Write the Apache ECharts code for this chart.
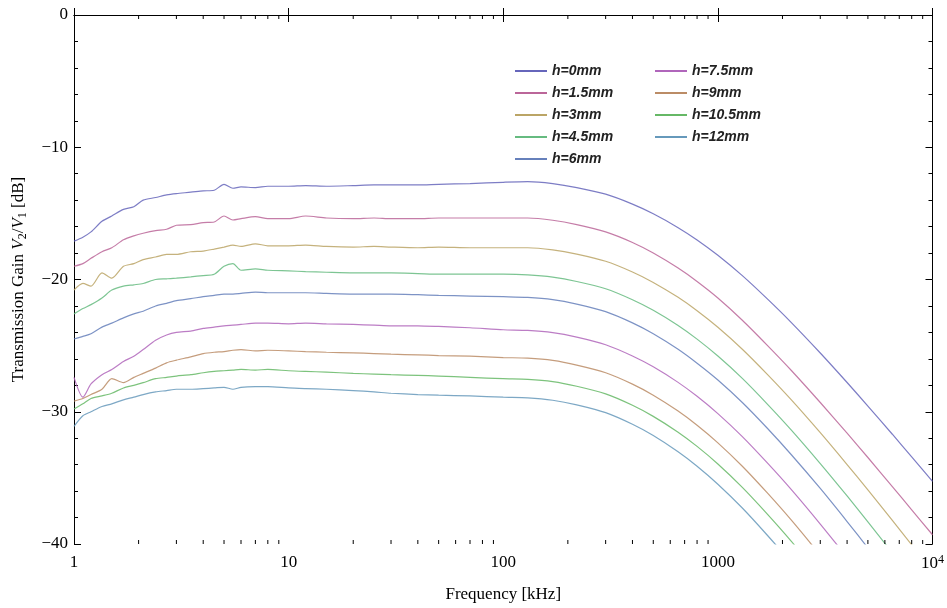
<!DOCTYPE html>
<html>
<head>
<meta charset="utf-8">
<script src="https://cdn.jsdelivr.net/npm/echarts@6/dist/echarts.min.js"></script>
<style>
  html, body { margin: 0; padding: 0; background: #fff; }
  #chart { width: 947px; height: 608px; }
</style>
</head>
<body>
<div id="chart"></div>
<script>
// frequency grid [kHz]
const freq = [1, 1.1, 1.2, 1.35, 1.5, 1.7, 1.9, 2.1, 2.4, 2.7, 3, 3.5, 4, 4.5, 5, 5.5, 6, 7, 8,
  10, 12, 15, 20, 25, 30, 40, 50, 70, 100,
  130, 170, 220, 300, 400, 500, 650, 800, 1000,
  1300, 1700, 2200, 3000, 4000, 5000, 6500, 8000, 10000];

// transmission gain [dB] per height
const h0 = [-17.1, -16.8, -16.4, -15.6, -15.2, -14.7, -14.5, -14.0, -13.8, -13.6, -13.5, -13.4, -13.3, -13.25, -12.8, -13.1, -13.0, -13.05, -12.95,
  -12.95, -12.9, -12.95, -12.9, -12.85, -12.85, -12.85, -12.8, -12.75, -12.65,
  -12.6, -12.75, -13.05, -13.55, -14.3, -15.03, -16.06, -17.01, -18.17,
  -19.71, -21.47, -23.26, -25.56, -27.79, -29.57, -31.7, -33.41, -35.27];
const h15 = [-19.0, -18.8, -18.4, -17.9, -17.6, -17.0, -16.7, -16.5, -16.3, -16.2, -15.9, -15.85, -15.7, -15.65, -15.2, -15.5, -15.4, -15.25, -15.4,
  -15.4, -15.2, -15.35, -15.4, -15.35, -15.4, -15.4, -15.35, -15.35, -15.35,
  -15.35, -15.52, -15.85, -16.4, -17.2, -18.0, -19.12, -20.15, -21.4,
  -23.08, -24.98, -26.88, -29.3, -31.62, -33.46, -35.66, -37.42, -39.3];
const h3 = [-20.8, -20.3, -20.5, -19.5, -19.9, -19.0, -18.8, -18.5, -18.3, -18.1, -18.1, -17.9, -17.85, -17.7, -17.55, -17.4, -17.5, -17.3, -17.45,
  -17.45, -17.4, -17.5, -17.55, -17.5, -17.55, -17.6, -17.55, -17.6, -17.6,
  -17.6, -17.76, -18.08, -18.62, -19.43, -20.22, -21.33, -22.36, -23.61,
  -25.27, -27.17, -29.1, -31.58, -33.99, -35.91, -38.21, -40.06, -42.06];
const h45 = [-22.6, -22.2, -21.9, -21.4, -20.8, -20.5, -20.4, -20.3, -20.0, -19.95, -19.9, -19.8, -19.7, -19.6, -19.0, -18.8, -19.3, -19.2, -19.3,
  -19.35, -19.4, -19.45, -19.5, -19.5, -19.5, -19.55, -19.6, -19.6, -19.6,
  -19.65, -19.82, -20.15, -20.7, -21.53, -22.33, -23.46, -24.51, -25.79,
  -27.48, -29.42, -31.39, -33.92, -36.37, -38.33, -40.67, -42.55, -44.6];
const h6 = [-24.5, -24.3, -24.1, -23.6, -23.3, -22.9, -22.6, -22.4, -22.0, -21.8, -21.6, -21.45, -21.3, -21.2, -21.1, -21.1, -21.05, -20.95, -21.0,
  -21.0, -21.0, -21.05, -21.1, -21.1, -21.1, -21.15, -21.2, -21.25, -21.3,
  -21.35, -21.52, -21.86, -22.43, -23.28, -24.1, -25.26, -26.33, -27.6,
  -29.3, -31.25, -33.25, -35.8, -38.3, -40.3, -42.7, -44.6, -46.7];
const h75 = [-27.4, -28.9, -27.9, -27.2, -26.8, -26.2, -25.8, -25.3, -24.6, -24.2, -24.0, -23.9, -23.7, -23.6, -23.5, -23.45, -23.4, -23.3, -23.3,
  -23.35, -23.3, -23.35, -23.4, -23.45, -23.5, -23.5, -23.55, -23.65, -23.8,
  -23.85, -24.02, -24.36, -24.93, -25.78, -26.6, -27.76, -28.83, -30.14,
  -31.88, -33.87, -35.89, -38.49, -41.01, -43.02, -45.43, -47.36, -49.46];
const h9 = [-29.2, -29.0, -28.7, -28.3, -27.5, -27.8, -27.4, -27.1, -26.7, -26.3, -26.1, -25.85, -25.6, -25.5, -25.45, -25.35, -25.3, -25.4, -25.35,
  -25.4, -25.45, -25.5, -25.55, -25.6, -25.65, -25.7, -25.75, -25.8, -25.9,
  -25.95, -26.12, -26.47, -27.05, -27.91, -28.75, -29.93, -31.02, -32.35,
  -34.12, -36.14, -38.2, -40.85, -43.41, -45.46, -47.91, -49.88, -52.02];
const h105 = [-29.8, -29.4, -29.0, -28.8, -28.6, -28.2, -28.0, -27.8, -27.5, -27.4, -27.3, -27.2, -27.05, -26.95, -26.9, -26.85, -26.8, -26.85, -26.8,
  -26.9, -26.95, -27.0, -27.1, -27.15, -27.2, -27.25, -27.3, -27.4, -27.5,
  -27.55, -27.72, -28.07, -28.65, -29.51, -30.35, -31.53, -32.62, -33.95,
  -35.72, -37.74, -39.8, -42.45, -45.01, -47.06, -49.51, -51.48, -53.62];
const h12 = [-31.1, -30.3, -30.0, -29.6, -29.4, -29.1, -28.9, -28.7, -28.5, -28.4, -28.3, -28.3, -28.25, -28.2, -28.15, -28.3, -28.15, -28.1, -28.1,
  -28.2, -28.25, -28.3, -28.4, -28.5, -28.6, -28.7, -28.75, -28.8, -28.9,
  -28.95, -29.13, -29.48, -30.07, -30.95, -31.8, -33.01, -34.12, -35.48,
  -37.28, -39.34, -41.43, -44.12, -46.73, -48.81, -51.3, -53.3, -55.48];

const names = ['h=0mm', 'h=1.5mm', 'h=3mm', 'h=4.5mm', 'h=6mm', 'h=7.5mm', 'h=9mm', 'h=10.5mm', 'h=12mm'];
const values = [h0, h15, h3, h45, h6, h75, h9, h105, h12];
const colors = ['#6666bb', '#bb6699', '#bba566', '#66bb80', '#6680bb', '#b066bb', '#bb8c66', '#66b866', '#6699bb'];

// minor ticks of the log axis (2..9 of every decade)
const minorX = [2, 3, 4, 5, 6, 7, 8, 9, 20, 30, 40, 50, 60, 70, 80, 90,
  200, 300, 400, 500, 600, 700, 800, 900, 2000, 3000, 4000, 5000, 6000, 7000, 8000, 9000];

const serif = 'Liberation Serif';

const chart = echarts.init(document.getElementById('chart'));

const lineSeries = names.map((n, k) => ({
  name: n,
  type: 'line',
  data: freq.map((f, i) => [f, values[k][i]]),
  showSymbol: false,
  smooth: 0.25,
  clip: true,
  lineStyle: { width: 1.2, color: colors[k], opacity: 0.85 },
  itemStyle: { color: colors[k] },
  z: 3
}));

const tickSeries = {
  type: 'custom',
  silent: true,
  clip: false,
  data: minorX.map(v => [v, 0]),
  renderItem(params, api) {
    const b = api.coord([api.value(0), -40]);
    const t = api.coord([api.value(0), 0]);
    return {
      type: 'group',
      children: [
        { type: 'line', shape: { x1: b[0], y1: b[1], x2: b[0], y2: b[1] - 4 }, style: { stroke: '#000', lineWidth: 1 } },
        { type: 'line', shape: { x1: t[0], y1: t[1], x2: t[0], y2: t[1] + 4 }, style: { stroke: '#000', lineWidth: 1 } }
      ]
    };
  },
  z: 5
};

const legendBase = {
  orient: 'vertical',
  top: 64,
  padding: 0,
  itemWidth: 32,
  itemHeight: 2,
  itemGap: 8,
  icon: 'rect',
  textStyle: { fontFamily: 'Liberation Sans', fontStyle: 'italic', fontWeight: 'bold', fontSize: 14, color: '#222', lineHeight: 14 }
};

chart.setOption({
  animation: false,
  backgroundColor: '#fff',
  color: colors,
  grid: { left: 74, right: 13, top: 15, bottom: 63 },
  legend: [
    Object.assign({ left: 515, data: names.slice(0, 5) }, legendBase),
    Object.assign({ left: 655, data: names.slice(5) }, legendBase)
  ],
  xAxis: [
    {
      type: 'log', logBase: 10, min: 1, max: 10000, splitNumber: 4,
      name: 'Frequency [kHz]', nameLocation: 'middle', nameGap: 42,
      nameTextStyle: { fontFamily: serif, fontSize: 17, color: '#000' },
      axisLine: { show: true, lineStyle: { color: '#000', width: 1 } },
      axisTick: { show: true, inside: true, length: 7, lineStyle: { color: '#000' } },
      splitLine: { show: false },
      axisLabel: {
        margin: 10, fontFamily: serif, fontSize: 17, color: '#000',
        formatter: v => Math.round(v) === 10000 ? '{b|10}{s|4}' : String(Math.round(v)),
        rich: {
          b: { fontFamily: serif, fontSize: 17, color: '#000', lineHeight: 20 },
          s: { fontFamily: serif, fontSize: 12, color: '#000', verticalAlign: 'top', lineHeight: 12 }
        }
      }
    },
    {
      type: 'log', logBase: 10, min: 1, max: 10000, splitNumber: 4, position: 'top',
      axisLine: { show: true, lineStyle: { color: '#000', width: 1 } },
      axisTick: { show: true, inside: true, length: 7, lineStyle: { color: '#000' } },
      axisLabel: { show: false },
      splitLine: { show: false }
    }
  ],
  yAxis: [
    {
      type: 'value', min: -40, max: 0, interval: 10,
      name: 'Transmission Gain {i|V}{sub|2}/{i|V}{sub|1} [dB]',
      nameLocation: 'middle', nameGap: 45, nameRotate: 90,
      nameTextStyle: {
        fontFamily: serif, fontSize: 17, color: '#000',
        rich: {
          i: { fontFamily: serif, fontSize: 17, fontStyle: 'italic', color: '#000' },
          sub: { fontFamily: serif, fontSize: 12, color: '#000', verticalAlign: 'bottom', padding: [8, 0, 0, 0] }
        }
      },
      axisLine: { show: true, lineStyle: { color: '#000', width: 1 } },
      axisTick: { show: true, inside: true, length: 7, lineStyle: { color: '#000' } },
      minorTick: { show: true, splitNumber: 5, length: 4, lineStyle: { color: '#000' } },
      splitLine: { show: false },
      minorSplitLine: { show: false },
      axisLabel: {
        margin: 6, fontFamily: serif, fontSize: 17, color: '#000',
        formatter: v => v < 0 ? '\u2212' + Math.abs(v) : String(v)
      }
    },
    {
      type: 'value', min: -40, max: 0, interval: 10, position: 'right',
      axisLine: { show: true, lineStyle: { color: '#000', width: 1 } },
      axisTick: { show: true, inside: true, length: 7, lineStyle: { color: '#000' } },
      minorTick: { show: true, splitNumber: 5, length: 4, lineStyle: { color: '#000' } },
      splitLine: { show: false },
      axisLabel: { show: false }
    }
  ],
  series: lineSeries.concat([tickSeries])
});
</script>
</body>
</html>
